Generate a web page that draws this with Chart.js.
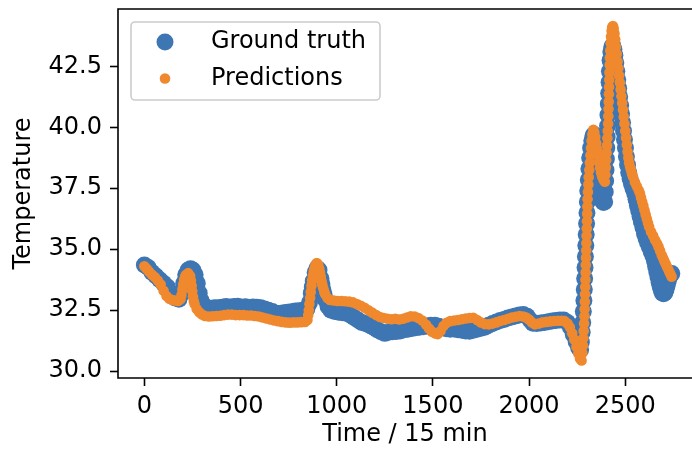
<!DOCTYPE html>
<html>
<head>
<meta charset="utf-8">
<script src="https://cdn.jsdelivr.net/npm/chart.js@4.4.0/dist/chart.umd.min.js"></script>
<style>
  html, body { margin: 0; padding: 0; background: #fff; overflow: hidden; }
  #wrap { width: 692px; height: 450px; }
</style>
</head>
<body>
<div id="wrap"><canvas id="chart" width="692" height="450"></canvas></div>
<script>
// values, [time step, temperature]
const groundTruth = [
  [0,34.35],[20,34.25],[40,34.05],[60,33.9],[80,33.75],[100,33.6],[120,33.45],[140,33.2],[160,33.0],[180,32.95],
  [195,33.2],[205,33.6],[215,33.95],[228,34.15],[240,34.2],[252,34.15],[264,33.95],[275,33.6],[285,33.2],[295,32.9],
  [308,32.7],[325,32.6],[345,32.55],[365,32.6],[385,32.6],[405,32.62],[425,32.65],[445,32.62],[465,32.65],[485,32.66],
  [505,32.62],[525,32.64],[545,32.6],[565,32.63],[585,32.62],[605,32.6],[625,32.55],[645,32.5],[665,32.45],[685,32.38],
  [705,32.36],[725,32.4],[745,32.42],[765,32.44],[785,32.47],[805,32.48],[825,32.5],[845,32.55],[858,32.8],[868,33.2],
  [873,33.45],[878,33.7],[888,34.05],[898,34.22],[908,34.15],[918,33.8],[923,33.58],[928,33.35],[934,33.15],[940,32.95],
  [955,32.65],[970,32.5],[990,32.45],[1010,32.42],[1030,32.4],[1050,32.38],[1070,32.3],[1090,32.2],[1110,32.1],[1130,32.0],
  [1150,31.95],[1170,31.88],[1190,31.8],[1210,31.7],[1230,31.62],[1250,31.55],[1270,31.6],[1290,31.62],[1310,31.63],[1330,31.65],
  [1350,31.7],[1370,31.72],[1390,31.75],[1410,31.78],[1430,31.8],[1450,31.82],[1470,31.85],[1490,31.88],[1510,31.88],[1530,31.84],
  [1550,31.78],[1570,31.74],[1590,31.72],[1610,31.73],[1630,31.7],[1650,31.68],[1670,31.65],[1690,31.64],[1710,31.68],[1730,31.72],
  [1750,31.76],[1770,31.8],[1790,31.88],[1810,31.95],[1830,32.02],[1850,32.08],[1870,32.12],[1890,32.18],[1910,32.22],[1930,32.26],
  [1950,32.3],[1970,32.32],[1990,32.25],[2005,32.1],[2020,31.97],[2040,31.95],[2060,31.98],[2080,32.0],[2100,32.03],[2120,32.06],
  [2140,32.08],[2160,32.1],[2180,32.1],[2200,32.0],[2215,31.8],[2230,31.5],[2245,31.2],[2258,30.95],[2268,30.88],
  [2272,31.2],[2276,31.6],[2279,32.0],[2282,32.45],[2285,32.9],[2287,33.35],[2289,33.8],[2291,34.25],[2293,34.7],[2295,35.15],
  [2297,35.6],[2299,36.05],[2301,36.5],[2303,36.95],[2305,37.4],[2308,37.85],[2311,38.3],[2315,38.75],[2320,39.15],[2326,39.45],
  [2332,39.65],[2338,39.7],[2343,39.5],[2348,39.2],[2352,38.85],[2356,38.45],[2360,38.05],[2364,37.7],[2369,37.4],[2375,37.15],
  [2381,36.98],[2387,36.92],[2393,36.95],[2396,37.35],[2398,37.8],[2400,38.25],[2402,38.7],[2404,39.15],[2406,39.6],[2408,40.05],
  [2410,40.5],[2412,40.95],[2414,41.4],[2416,41.85],[2418,42.3],[2421,42.75],[2425,43.1],[2430,43.3],[2435,43.35],[2441,43.2],
  [2446,42.95],[2451,42.65],[2456,42.3],[2461,41.95],[2466,41.6],[2471,41.25],[2476,40.9],[2481,40.55],[2486,40.2],[2491,39.85],
  [2496,39.5],[2501,39.15],[2506,38.8],[2512,38.45],[2518,38.15],[2525,37.9],[2532,37.7],[2540,37.5],[2549,37.3],[2556,37.05],
  [2563,36.8],[2570,36.58],[2577,36.35],[2584,36.12],[2592,35.9],[2600,35.65],[2608,35.45],[2616,35.28],[2625,35.1],[2635,34.9],
  [2644,34.72],[2652,34.52],[2658,34.3],[2664,34.08],[2670,33.86],[2676,33.65],[2682,33.45],[2688,33.3],[2694,33.2],[2700,33.17],
  [2706,33.22],[2712,33.35],[2718,33.52],[2724,33.7],[2730,33.86],[2736,33.98],[2742,34.0]
];

const predictions = [
  [0,34.3],[12,34.2],[25,34.08],[40,33.95],[55,33.85],[70,33.72],[85,33.55],[100,33.3],[115,33.08],[130,32.97],
  [145,32.92],[160,32.9],[175,32.88],[188,32.95],[193,33.12],[198,33.35],[202,33.55],[207,33.75],[212,33.88],[217,33.95],
  [228,34.02],[238,33.9],[242,33.72],[246,33.5],[249,33.28],[253,33.05],[257,32.88],[261,32.75],[272,32.55],[285,32.42],
  [300,32.32],[315,32.26],[335,32.24],[355,32.25],[375,32.26],[395,32.27],[415,32.3],[435,32.32],[455,32.32],[475,32.3],
  [495,32.3],[515,32.3],[535,32.28],[555,32.28],[575,32.26],[595,32.24],[615,32.2],[635,32.16],[655,32.12],[675,32.08],
  [695,32.05],[715,32.02],[735,32.0],[755,31.99],[775,32.0],[795,32.0],[815,32.01],[835,32.02],[848,32.1],[852,32.3],
  [855,32.5],[858,32.75],[862,33.0],[865,33.25],[869,33.5],[872,33.72],[876,33.9],[880,34.08],[884,34.2],[889,34.34],
  [894,34.42],[899,34.42],[904,34.35],[909,34.2],[913,34.05],[917,33.88],[921,33.7],[925,33.55],[930,33.4],[935,33.27],
  [940,33.15],[952,33.0],[965,32.92],[985,32.9],[1005,32.88],[1025,32.88],[1045,32.87],[1065,32.85],[1085,32.82],[1105,32.75],
  [1125,32.68],[1145,32.6],[1165,32.5],[1185,32.4],[1205,32.3],[1225,32.22],[1245,32.18],[1265,32.15],[1285,32.13],[1305,32.15],
  [1325,32.12],[1345,32.15],[1365,32.2],[1385,32.25],[1405,32.24],[1425,32.18],[1445,32.08],[1465,31.9],[1480,31.75],[1495,31.62],
  [1510,31.55],[1525,31.52],[1540,31.65],[1555,31.85],[1570,31.98],[1590,32.05],[1610,32.08],[1630,32.1],[1650,32.13],[1670,32.16],
  [1690,32.18],[1710,32.19],[1730,32.1],[1750,32.0],[1770,31.93],[1790,31.92],[1810,31.95],[1830,32.0],[1850,32.06],[1870,32.1],
  [1890,32.15],[1910,32.2],[1930,32.23],[1950,32.26],[1970,32.24],[1985,32.2],[2000,32.12],[2015,32.0],[2030,31.92],[2050,31.95],
  [2070,32.0],[2090,32.02],[2110,32.04],[2130,32.06],[2150,32.07],[2170,32.07],[2185,32.05],[2200,31.95],[2212,31.8],[2224,31.55],
  [2235,31.3],[2246,31.0],[2256,30.72],[2265,30.52],[2273,30.44],[2277,30.75],[2280,31.05],[2282,31.35],[2284,31.65],[2286,31.95],
  [2288,32.25],[2289,32.55],[2290,32.85],[2291,33.15],[2292,33.45],[2293,33.75],[2294,34.05],[2295,34.35],[2296,34.65],[2297,34.95],
  [2298,35.25],[2299,35.55],[2300,35.85],[2301,36.15],[2302,36.45],[2303,36.75],[2304,37.05],[2306,37.35],[2308,37.65],[2310,37.95],
  [2313,38.25],[2316,38.55],[2319,38.85],[2322,39.15],[2325,39.45],[2329,39.7],[2334,39.9],[2339,39.8],[2344,39.6],[2349,39.35],
  [2354,39.1],[2359,38.85],[2364,38.6],[2369,38.35],[2374,38.15],[2380,37.98],[2387,37.85],[2394,37.77],[2397,38.05],[2399,38.35],
  [2401,38.65],[2403,38.95],[2405,39.25],[2407,39.55],[2409,39.85],[2411,40.15],[2412,40.45],[2413,40.75],[2414,41.05],[2415,41.35],
  [2416,41.65],[2417,41.95],[2418,42.25],[2419,42.55],[2420,42.85],[2422,43.15],[2424,43.45],[2426,43.72],[2429,43.95],[2432,44.1],
  [2436,44.15],[2440,44.05],[2444,43.85],[2448,43.6],[2452,43.3],[2456,43.0],[2460,42.7],[2464,42.42],[2468,42.12],[2472,41.84],
  [2476,41.55],[2480,41.27],[2484,41.0],[2488,40.72],[2492,40.43],[2496,40.15],[2500,39.85],[2504,39.57],[2508,39.28],[2512,39.0],
  [2516,38.75],[2520,38.55],[2525,38.38],[2530,38.25],[2535,38.1],[2540,37.98],[2550,37.75],[2560,37.58],[2570,37.42],[2576,37.3],
  [2582,37.12],[2588,36.95],[2594,36.78],[2600,36.6],[2606,36.42],[2612,36.25],[2618,36.08],[2624,35.92],[2634,35.72],[2645,35.55],
  [2655,35.38],[2665,35.24],[2673,35.1],[2681,34.94],[2690,34.75],[2697,34.63],[2703,34.52],[2710,34.4],[2717,34.28],[2723,34.18],
  [2729,34.08],[2735,33.97],[2741,33.87]
];

const seriesNames = ['Ground truth', 'Predictions'];
const xTicks = [0, 500, 1000, 1500, 2000, 2500];
const yTicks = [30, 32.5, 35, 37.5, 40, 42.5];

const truthColor = '#3e76b3';
const predColor = '#f0892e';

Chart.defaults.font.family = "'DejaVu Sans', sans-serif";
Chart.defaults.font.size = 24;
Chart.defaults.color = '#000';

const toPoints = pairs => pairs.map(([x, y]) => ({ x, y }));

// spines (the right one falls outside the cropped picture) and the boxed legend
const frameAndLegend = {
  id: 'frameAndLegend',
  afterDatasetsDraw(chart) {
    const { ctx, chartArea: a } = chart;
    ctx.save();
    ctx.strokeStyle = '#000';
    ctx.lineWidth = 1.6;
    ctx.beginPath();
    ctx.moveTo(a.right + 2, a.top);
    ctx.lineTo(a.left, a.top);
    ctx.lineTo(a.left, a.bottom);
    ctx.lineTo(a.right + 2, a.bottom);
    ctx.stroke();
    ctx.restore();
  },
  afterDraw(chart) {
    const ctx = chart.ctx;
    ctx.save();
    ctx.beginPath();
    ctx.roundRect(131, 22, 249, 78, 4);
    ctx.fillStyle = 'rgba(255,255,255,0.8)';
    ctx.fill();
    ctx.strokeStyle = '#cccccc';
    ctx.lineWidth = 1.6;
    ctx.stroke();

    const rows = [42, 78.5];
    chart.data.datasets.forEach((ds, i) => {
      ctx.beginPath();
      ctx.arc(165, rows[i], ds.pointRadius, 0, Math.PI * 2);
      ctx.fillStyle = ds.backgroundColor;
      ctx.fill();
      ctx.fillStyle = '#000';
      ctx.font = "24px 'DejaVu Sans'";
      ctx.textBaseline = 'middle';
      ctx.textAlign = 'left';
      ctx.fillText(ds.label, 211, rows[i]);
    });
    ctx.restore();
  }
};

const tickGrid = {
  display: true,
  drawOnChartArea: false,
  drawTicks: true,
  tickLength: 8,
  tickWidth: 1.6,
  tickColor: '#000'
};

// fixed axis sizes, and no extra room kept for end labels
function fixSize(prop, size) {
  return scale => {
    scale[prop] = size;
    scale.paddingTop = 0;
    scale.paddingBottom = 0;
    scale.paddingLeft = 0;
    scale.paddingRight = 0;
  };
}

new Chart(document.getElementById('chart'), {
  type: 'scatter',
  data: {
    datasets: [
      {
        label: seriesNames[0],
        data: toPoints(groundTruth),
        backgroundColor: truthColor,
        pointRadius: 8.5,
        pointBorderWidth: 0,
        order: 1
      },
      {
        label: seriesNames[1],
        data: toPoints(predictions),
        backgroundColor: predColor,
        pointRadius: 5.3,
        pointBorderWidth: 0,
        order: 0
      }
    ]
  },
  options: {
    responsive: false,
    animation: false,
    events: [],
    layout: { autoPadding: false, padding: { top: 9, right: 0, bottom: 0, left: 0 } },
    plugins: {
      legend: { display: false },
      tooltip: { enabled: false }
    },
    scales: {
      x: {
        type: 'linear',
        min: -137,
        max: 2847,
        afterFit: fixSize('height', 72),
        afterBuildTicks(scale) { scale.ticks = xTicks.map(v => ({ value: v })); },
        ticks: { padding: 6, maxRotation: 0, autoSkip: false, callback: v => String(v) },
        grid: tickGrid,
        border: { display: false },
        title: { display: true, text: 'Time / 15 min', padding: { top: 0, bottom: 1 } }
      },
      y: {
        type: 'linear',
        min: 29.72,
        max: 44.85,
        afterFit: fixSize('width', 118),
        afterBuildTicks(scale) { scale.ticks = yTicks.map(v => ({ value: v })); },
        ticks: { padding: 8, autoSkip: false, callback: v => v.toFixed(1) },
        grid: tickGrid,
        border: { display: false },
        title: { display: true, text: 'Temperature', padding: { top: 9, bottom: 0 } }
      }
    }
  },
  plugins: [frameAndLegend]
});
</script>
</body>
</html>
